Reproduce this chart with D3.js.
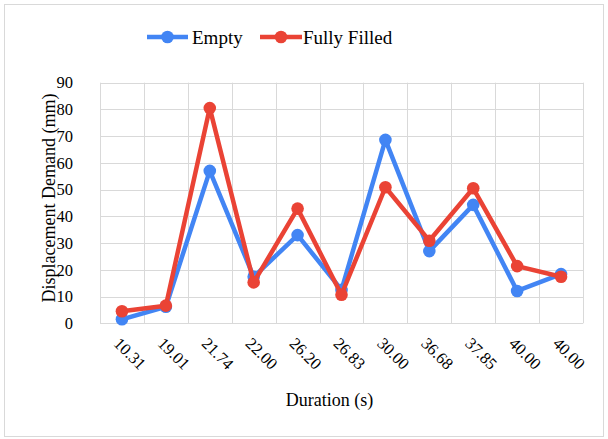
<!DOCTYPE html>
<html><head><meta charset="utf-8">
<script src="https://cdn.jsdelivr.net/npm/d3@7"></script>
<style>body{margin:0;background:#fff}svg{display:block}
svg text{font-family:"Liberation Serif","Times New Roman",Times,"DejaVu Serif",serif;fill:#000}</style>
</head><body><svg id="c" width="608" height="439"></svg>
<script>
const categories = ["10.31","19.01","21.74","22.00","26.20","26.83","30.00","36.68","37.85","40.00","40.00"];
const emptyValues = [1.5, 6.2, 57, 17.4, 33, 12.5, 68.6, 27, 44.3, 12.1, 18.4];
const fullValues = [4.5, 6.6, 80.5, 15.3, 42.9, 10.7, 50.9, 30.9, 50.5, 21.4, 17.4];
const seriesNames = ["Empty", "Fully Filled"];
const yTicks = [0,10,20,30,40,50,60,70,80,90];

const colors = ["#4285F4", "#EA4335"];
const svg = d3.select("#c");
const W = 608, H = 439;
const m = {left:100, right:25, top:82.7, bottom:115.7};

svg.append("rect").attr("x",4.5).attr("y",4.5).attr("width",599).attr("height",432)
  .attr("fill","#fff").attr("stroke","#d9d9d9").attr("stroke-width",1);

const x = d3.scaleBand().domain(d3.range(categories.length)).range([m.left, W-m.right]);
const y = d3.scaleLinear().domain([0,90]).range([H-m.bottom, m.top]);

const g = svg.append("g");
g.selectAll(".hg").data(yTicks).enter().append("line")
  .attr("x1",m.left).attr("x2",W-m.right)
  .attr("y1",d=>Math.round(y(d))+0.5).attr("y2",d=>Math.round(y(d))+0.5)
  .attr("stroke","#d9d9d9").attr("stroke-width",1);
const bounds = d3.range(categories.length+1).map(i => i<categories.length ? x(i) : x(categories.length-1)+x.bandwidth());
g.selectAll(".vg").data(bounds).enter().append("line")
  .attr("y1",y(0)).attr("y2",y(90))
  .attr("x1",d=>Math.round(d)+0.5).attr("x2",d=>Math.round(d)+0.5)
  .attr("stroke","#d9d9d9").attr("stroke-width",1);

g.selectAll(".yl").data(yTicks).enter().append("text")
  .attr("x",m.left-27).attr("y",d=>y(d)).attr("dy","0.35em")
  .attr("text-anchor","end").attr("font-size",16.5)
  .text(d=>d);

g.selectAll(".xl").data(categories).enter().append("text")
  .attr("transform",(d,i)=>`translate(${x(i)+x.bandwidth()/2-5},${y(0)+17}) rotate(45)`)
  .attr("text-anchor","start").attr("font-size",16.5)
  .attr("dy","0.35em")
  .text(d=>d);

svg.append("text").attr("x",(m.left+W-m.right)/2 - 12).attr("y",406)
  .attr("text-anchor","middle").attr("font-size",18).text("Duration (s)");
svg.append("text").attr("transform",`translate(55,${(y(0)+y(90))/2 - 5}) rotate(-90)`)
  .attr("text-anchor","middle").attr("font-size",18).text("Displacement Demand (mm)");

const series = [emptyValues, fullValues];
const line = d3.line().x((d,i)=>x(i)+x.bandwidth()/2).y(d=>y(d));
series.forEach((vals,k)=>{
  const sg = svg.append("g");
  sg.append("path").datum(vals).attr("d",line).attr("fill","none")
    .attr("stroke",colors[k]).attr("stroke-width",4.5).attr("stroke-linejoin","round");
  sg.selectAll("circle").data(vals).enter().append("circle")
    .attr("cx",(d,i)=>x(i)+x.bandwidth()/2).attr("cy",d=>y(d)).attr("r",6.3)
    .attr("fill",colors[k]);
});

const leg = [{x0:147, x1:188, tx:192}, {x0:260, x1:302, tx:303}];
leg.forEach((L,k)=>{
  svg.append("line").attr("x1",L.x0).attr("x2",L.x1).attr("y1",37).attr("y2",37)
    .attr("stroke",colors[k]).attr("stroke-width",4.5);
  svg.append("circle").attr("cx",(L.x0+L.x1)/2).attr("cy",37).attr("r",6.3).attr("fill",colors[k]);
  svg.append("text").attr("x",L.tx).attr("y",37).attr("dy","0.35em")
    .attr("font-size",19).text(seriesNames[k]);
});
</script></body></html>
